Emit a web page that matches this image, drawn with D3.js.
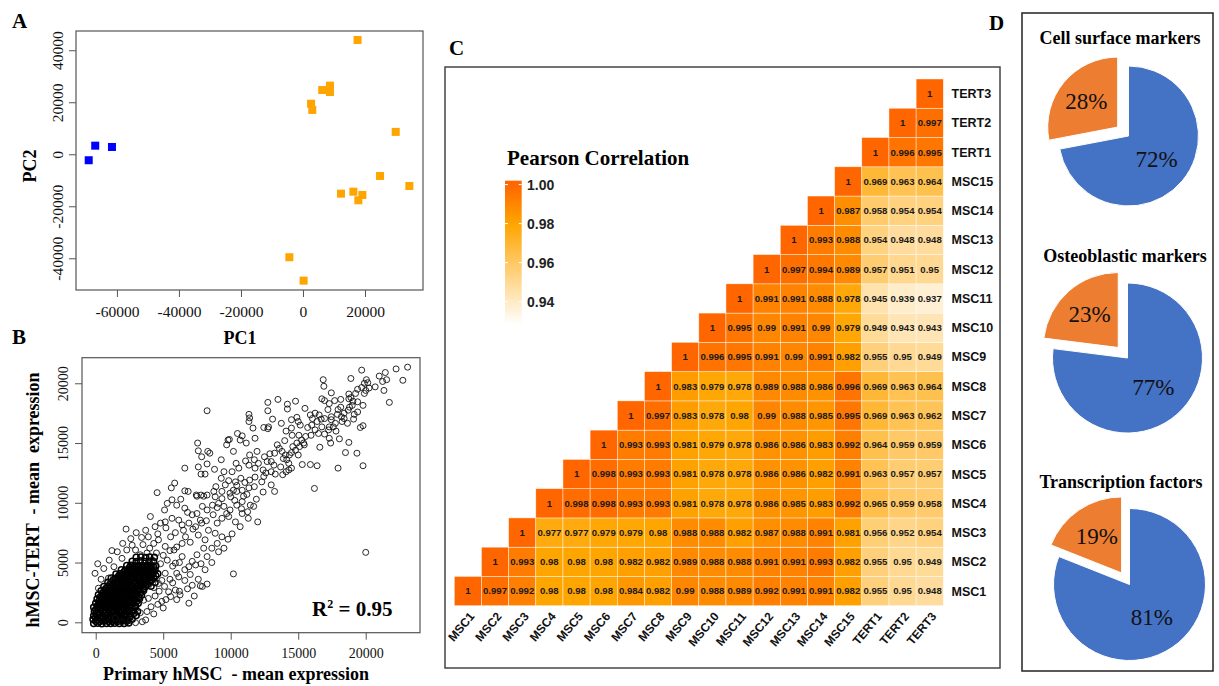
<!DOCTYPE html>
<html>
<head>
<meta charset="utf-8">
<script src="https://cdn.jsdelivr.net/npm/d3@7"></script>
<style>
  body { margin: 0; background: #fff; }
</style>
</head>
<body>
<script>
// ---- panel A : PCA ----
const pcaMSC = [[17600,43950],[2600,19450],[3000,17050],[6200,24700],[8700,26400],[8700,23950],
  [29900,8600],[24850,-8350],[34300,-12200],[12250,-15150],[16250,-14400],[19150,-15650],
  [17850,-17700],[-4400,-39600],[200,-48600]];
const pcaTERT = [[-69100,-2300],[-67000,3300],[-61600,2800]];
const pcaXLim = [-73200, 38700];
const pcaYLim = [-52200, 47400];
const pcaXTicks = [-60000, -40000, -20000, 0, 20000];
const pcaYTicks = [-40000, -20000, 0, 20000, 40000];

// ---- panel B : mean expression scatter ----
const exprSpread = [[23100,21350],[22250,21200],[21450,20900],[19700,21100],[22750,20250],[21550,20300],[21250,20150],[20050,20300],[20150,20050],[18900,20400],[16850,20300],[16900,19750],[20700,19700],[20250,19600],[19700,19650],[19400,19500],[21350,19400],[20000,19400],[19900,19150],[19250,19150],[18750,19100],[17450,19200],[21750,18400],[18150,18650],[18750,18700],[19050,18500],[19400,18450],[16750,18700],[16950,18550],[17700,18550],[19800,18150],[19000,18150],[18800,18000],[18150,18000],[17950,17800],[17200,17800],[18700,17750],[19400,17600],[19150,17400],[18400,17500],[17900,17400],[17450,17200],[18400,17050],[19100,17000],[18250,16800],[17750,16650],[17450,16950],[17600,16350],[17300,16350],[19800,16450],[19600,16300],[18650,16650],[16950,17050],[16550,17350],[16250,17500],[15900,17350],[16050,17050],[16400,16800],[16000,16500],[16750,16350],[16250,16100],[16500,15800],[16950,15750],[17250,16100],[17300,15400],[17400,15000],[18050,15350],[18750,15050],[16600,14650],[15950,15650],[15550,15550],[15250,15250],[15400,15000],[14900,15000],[15100,14700],[14800,14400],[15450,14850],[15050,15650],[14550,15650],[14500,16250],[15000,16800],[14900,17150],[15150,16500],[14500,16950],[14100,16000],[13750,16650],[13450,14850],[13600,14550],[13250,14150],[13800,14300],[14050,14000],[14350,14000],[14500,14200],[13900,13700],[14150,13600],[13000,13450],[13200,13150],[12700,13450],[12400,12750],[11800,12900],[12050,13300],[11750,13600],[11350,13150],[11100,13500],[11950,14300],[11400,14000],[14300,12750],[14500,12900],[14100,12600],[13850,12350],[13300,12400],[13000,12600],[12450,12200],[11800,12150],[11400,11900],[11050,11700],[10750,12050],[10350,11750],[10450,11450],[10200,11050],[9850,11850],[9600,11500],[9300,12050],[9500,12600],[10400,13300],[10600,12900],[10100,12600],[8750,10950],[8900,11350],[9350,10950],[9950,10800],[10450,10950],[10850,11050],[11350,11250],[11750,11350],[12300,11750],[15300,13200],[15900,13200],[16400,13100],[17950,12900],[19800,13100],[19350,14150],[18500,14200],
  [8250,17700],[12750,18400],[13500,18650],[14800,18500],[14200,18250],[14200,17850],[12750,17700],[13100,17000],[11350,17400],[11400,17100],[11350,16800],[11650,16250],[12450,16300],[12800,16350],[12750,16200],[10500,15800],[10850,15600],[11150,15000],[10700,15250],[9900,15300],[9700,14850],[7550,15000],[7600,14350],[8300,14300],[8450,14150],[7850,13850],[8250,13250],[7600,13000],[7800,12400],[8100,12400],[6600,12900],[5850,11650],[5600,11250],[6600,11000],[6850,10950],[4550,10850],[7450,10650],[7800,10650],[8250,10650],[16200,11200],[13250,10950],[9800,15250],[12500,13850],
  [7500,10550],[8000,10550],[8850,10500],[9350,10350],[10950,10550],[5300,9950],[5650,10250],[6000,9800],[5100,9400],[6600,9550],[7150,9000],[7500,9100],[7750,8550],[8250,9400],[8650,9800],[9100,9950],[9500,9700],[9950,9400],[10450,9800],[10850,10100],[11450,9800],[11700,9700],[11250,9250],[10850,9100],[10350,8400],[9850,8850],[9350,8700],[9000,8300],[12000,8400],[4050,8850],[3700,7700],[4400,8000],[4800,8300],[5150,8400],[5650,8700],[6150,8550],[6400,8150],[6900,8300],[7400,8000],[7850,8300],[8350,7700],[8850,7450],[9350,7150],[9800,6950],[9000,6600],[8600,6200],[9100,5900],[8250,5500],[8000,6200],[7500,5650],[7150,5100],[6900,4650],[7400,4800],[8100,4400],[10200,4050],[7150,3100],[7750,3050],[8250,3200],[7900,3000],[6250,2300],[6900,1600],[4900,1750],[5550,2150],[5900,2700],[5400,2550],[4400,2200],[3900,2000],[3550,1850],[20000,5850],[2250,7800],[150,4900],[-50,4100],[200,2850],[950,3700],[1350,4650],[1950,5350],[2300,6050],[2700,6450],[2950,6050],[3300,5650],[3900,7150],[4300,6600],[4650,6900],[3700,200],[3450,50],[2950,-30],[2550,150],[1950,50],[1450,350],[6150,3800],[5800,6050],[6400,6600],[6650,7150],[5550,7150],[5150,6350],[5900,4950],[5150,4100],[4650,3250],[6400,5500],
  [3500,6500],[4000,6200],[4500,5800],[5000,5600],[5500,6000],[6000,6300],[3800,5800],[4200,5200],[4800,4900],[5300,5200],[5700,4700],[6200,5000],[6600,4400],[6000,4100],[5500,3600],[4900,3500],[4300,2900],[5100,3000],[5700,3300],[6600,3500],[7000,4000],[7600,3600],[6800,2800],[6200,2600],[4700,2600],[5200,1900],[4600,1500],[4100,1300],[3800,900],[4300,700],[3300,800],[5000,1200],[6000,1900],[7300,2200],[7800,4900],[8600,5000],[9500,6200],[10100,7400],[10700,8000],[11300,8700],[7000,6700],[7600,7300],[8100,6900],[6500,7700],[7200,7800],[5900,7500],[5200,7900],[4600,7400],[3400,7100],[3000,7500],[2600,7000],[2000,6600],[1600,5900],[1000,5200],[600,4500],[400,3600],[1200,6000],[8700,9000],[9700,9100],[10300,10200],[8200,8500],[6800,9200],[7900,9700],[6300,10300],[10000,10500],[10800,9500],[11900,10300],[12400,10900],[13000,11500],[12600,12500],[13700,13000],[14300,13300],[15000,14000],[14000,15200],[15700,16300],[16700,17000],[17800,16000],[18200,17200],[18900,18800],[19900,20000],[21000,20600],[17300,18300],[15500,17900],[14600,14700],[12900,14100],[11800,15400],[9300,13600],[10200,14300],[8800,12800],[9000,9600],[11200,10700]];
const exprCore = [[-150,-100],[150,-80],[450,-120],[800,-90],[1100,-110],[1400,-70],[1750,-100],[2100,-90],[2450,-60],
  [-200,250],[100,230],[400,270],[700,240],[1000,260],[1350,220],[1650,280],[2000,250],[2300,230],[2700,260],
  [-150,550],[150,580],[450,530],[750,560],[1050,540],[1300,590],[1600,550],[1900,530],[2250,570],[2600,540],[3000,560],
  [-100,900],[200,880],[500,920],[800,890],[1100,910],[1400,870],[1700,930],[2000,900],[2350,880],[2700,920],[3100,900],
  [-150,1250],[150,1270],[450,1230],[750,1260],[1050,1240],[1350,1280],[1650,1250],[1950,1220],[2250,1260],[2550,1240],[2950,1270],
  [0,1600],[300,1580],[600,1620],[900,1590],[1200,1610],[1500,1570],[1800,1630],[2100,1600],[2400,1580],[2750,1610],[3150,1590],
  [100,1950],[400,1970],[700,1930],[1000,1960],[1300,1940],[1600,1980],[1900,1950],[2200,1920],[2500,1960],[2850,1940],[3250,1970],
  [200,2300],[500,2280],[800,2320],[1100,2290],[1400,2310],[1700,2270],[2000,2330],[2300,2300],[2650,2280],[3000,2310],[3400,2290],
  [400,2650],[700,2670],[1000,2630],[1300,2660],[1600,2640],[1900,2680],[2200,2650],[2500,2620],[2800,2660],[3150,2640],[3550,2670],
  [600,3000],[900,2980],[1200,3020],[1500,2990],[1800,3010],[2100,2970],[2400,3030],[2700,3000],[3000,2980],[3350,3010],[3700,2990],[4100,3020],
  [900,3350],[1200,3370],[1500,3330],[1800,3360],[2100,3340],[2400,3380],[2700,3350],[3000,3320],[3300,3360],[3650,3340],[4000,3370],[4400,3340],
  [1150,3700],[1450,3680],[1800,3720],[2100,3690],[2400,3710],[2700,3670],[3000,3730],[3300,3700],[3600,3680],[3950,3710],[4300,3690],
  [1500,4050],[1800,4070],[2100,4030],[2400,4060],[2700,4040],[3000,4080],[3300,4050],[3600,4020],[3900,4060],[4250,4040],[4600,4070],
  [1900,4400],[2200,4380],[2550,4420],[2850,4390],[3150,4410],[3450,4370],[3750,4430],[4050,4400],[4400,4380],
  [2300,4750],[2600,4770],[2900,4730],[3200,4760],[3500,4740],[3800,4780],[4100,4750],[4450,4720],
  [2700,5100],[3000,5080],[3300,5120],[3650,5090],[3950,5110],[4300,5070],
  [3000,5450],[3350,5470],[3700,5430],[4000,5460],[4350,5440]];
const exprCoreFill = [[0,80],[300,60],[600,100],[950,70],[1250,90],[1600,60],[1900,100],[2300,80],
  [0,420],[300,400],[600,440],[900,410],[1200,430],[1500,390],[1800,450],[2150,420],[2500,400],
  [50,750],[350,730],[650,770],[950,740],[1250,760],[1550,720],[1850,780],[2150,750],[2500,730],[2850,760],
  [0,1080],[300,1100],[600,1060],[900,1090],[1200,1070],[1500,1110],[1800,1080],[2100,1050],[2400,1090],[2800,1070],
  [150,1420],[450,1440],[750,1400],[1050,1430],[1350,1410],[1650,1450],[1950,1420],[2250,1390],[2600,1430],[2950,1410],
  [250,1780],[550,1760],[850,1800],[1150,1770],[1450,1790],[1750,1750],[2050,1810],[2350,1780],[2700,1760],[3050,1790],
  [350,2130],[650,2150],[950,2110],[1250,2140],[1550,2120],[1850,2160],[2150,2130],[2450,2100],[2800,2140],[3200,2120],
  [550,2480],[850,2460],[1150,2500],[1450,2470],[1750,2490],[2050,2450],[2350,2510],[2650,2480],[3000,2460],[3350,2490],
  [750,2830],[1050,2850],[1350,2810],[1650,2840],[1950,2820],[2250,2860],[2550,2830],[2850,2800],[3200,2840],[3550,2820],
  [1050,3180],[1350,3160],[1650,3200],[1950,3170],[2250,3190],[2550,3150],[2850,3210],[3150,3180],[3500,3160],[3850,3190],
  [1300,3530],[1650,3510],[1950,3550],[2250,3520],[2550,3540],[2850,3500],[3150,3560],[3450,3530],[3800,3510],[4150,3540],
  [1700,3880],[2000,3860],[2300,3900],[2600,3870],[2900,3890],[3200,3850],[3500,3910],[3800,3880],[4100,3860],[4450,3890],
  [2100,4230],[2400,4210],[2700,4250],[3000,4220],[3300,4240],[3600,4200],[3900,4260],[4250,4230],
  [2500,4580],[2800,4560],[3100,4600],[3400,4570],[3700,4590],[4000,4550],[4300,4610]];
const exprXLim = [-1015, 24020];
const exprYLim = [-870, 22140];
const exprTicks = [0, 5000, 10000, 15000, 20000];

// ---- panel C : correlation (row i holds columns i..17) ----
const corrLabels = ['MSC1','MSC2','MSC3','MSC4','MSC5','MSC6','MSC7','MSC8','MSC9','MSC10',
  'MSC11','MSC12','MSC13','MSC14','MSC15','TERT1','TERT2','TERT3'];
const corrRows = [
  [1,0.997,0.992,0.98,0.98,0.98,0.984,0.982,0.99,0.988,0.989,0.992,0.991,0.991,0.982,0.955,0.95,0.948],
  [1,0.993,0.98,0.98,0.98,0.982,0.982,0.989,0.988,0.988,0.991,0.991,0.993,0.982,0.955,0.95,0.949],
  [1,0.977,0.977,0.979,0.979,0.98,0.988,0.988,0.982,0.987,0.988,0.991,0.981,0.956,0.952,0.954],
  [1,0.998,0.998,0.993,0.993,0.981,0.978,0.978,0.986,0.985,0.983,0.992,0.965,0.959,0.958],
  [1,0.998,0.993,0.993,0.981,0.978,0.978,0.986,0.986,0.982,0.991,0.963,0.957,0.957],
  [1,0.993,0.993,0.981,0.979,0.978,0.986,0.986,0.983,0.992,0.964,0.959,0.959],
  [1,0.997,0.983,0.978,0.98,0.99,0.988,0.985,0.995,0.969,0.963,0.962],
  [1,0.983,0.979,0.978,0.989,0.988,0.986,0.996,0.969,0.963,0.964],
  [1,0.996,0.995,0.991,0.99,0.991,0.982,0.955,0.95,0.949],
  [1,0.995,0.99,0.991,0.99,0.979,0.949,0.943,0.943],
  [1,0.991,0.991,0.988,0.978,0.945,0.939,0.937],
  [1,0.997,0.994,0.989,0.957,0.951,0.95],
  [1,0.993,0.988,0.954,0.948,0.948],
  [1,0.987,0.958,0.954,0.954],
  [1,0.969,0.963,0.964],
  [1,0.996,0.995],
  [1,0.997],
  [1]];
const legendTicks = [0.94, 0.96, 0.98, 1.00];
const legendLim = [0.928, 1.002];

// ---- panel D : pies ----
const pieTitles = ['Cell surface markers', 'Osteoblastic markers', 'Transcription factors'];
const pieValues = [[72, 28], [77, 23], [81, 19]];

const SERIF = "'Liberation Serif', 'Times New Roman', serif";
const SANS = "'Liberation Sans', Arial, sans-serif";

const svg = d3.select('body').append('svg')
  .attr('width', 1219).attr('height', 686)
  .style('background', '#fff');

function panelLabel(t, x, y) {
  svg.append('text').attr('x', x).attr('y', y)
    .style('font-family', SERIF).style('font-weight', 'bold').style('font-size', '21px')
    .text(t);
}

// R style axes: box + outward ticks, y labels parallel to axis
function rAxes(g, x, y, xTicks, yTicks, fs, xLabY, yLabX) {
  const box = { x0: x.range()[0], x1: x.range()[1], y0: y.range()[1], y1: y.range()[0] };
  g.append('rect').attr('x', box.x0).attr('y', box.y0)
    .attr('width', box.x1 - box.x0).attr('height', box.y1 - box.y0)
    .attr('fill', 'none').attr('stroke', '#555').attr('stroke-width', 1.2);

  const xa = g.append('g').attr('transform', 'translate(0,' + box.y1 + ')')
    .call(d3.axisBottom(x).tickValues(xTicks).tickSize(7).tickFormat(function(d) { return String(d); }));
  xa.select('.domain').remove();
  xa.selectAll('.tick line').attr('stroke', '#555');
  xa.selectAll('.tick text').attr('y', xLabY).attr('dy', 0)
    .style('font-family', SERIF).style('font-size', fs + 'px').attr('fill', '#111');

  const ya = g.append('g').attr('transform', 'translate(' + box.x0 + ',0)')
    .call(d3.axisLeft(y).tickValues(yTicks).tickSize(7).tickFormat(function(d) { return String(d); }));
  ya.select('.domain').remove();
  ya.selectAll('.tick line').attr('stroke', '#555');
  ya.selectAll('.tick text')
    .attr('transform', 'rotate(-90)')
    .attr('x', 0).attr('y', -yLabX).attr('dy', 0)
    .attr('text-anchor', 'middle')
    .style('font-family', SERIF).style('font-size', fs + 'px').attr('fill', '#111');
}

function drawPca() {
  const x = d3.scaleLinear().domain(pcaXLim).range([76, 423]);
  const y = d3.scaleLinear().domain(pcaYLim).range([290, 31]);
  const g = svg.append('g');
  rAxes(g, x, y, pcaXTicks, pcaYTicks, 15.5, 27, 13.5);

  const sz = 8;
  g.selectAll('rect.msc').data(pcaMSC).join('rect').attr('class', 'msc')
    .attr('x', function(d) { return x(d[0]) - sz / 2; })
    .attr('y', function(d) { return y(d[1]) - sz / 2; })
    .attr('width', sz).attr('height', sz).attr('fill', '#ffa500');
  g.selectAll('rect.tert').data(pcaTERT).join('rect').attr('class', 'tert')
    .attr('x', function(d) { return x(d[0]) - sz / 2; })
    .attr('y', function(d) { return y(d[1]) - sz / 2; })
    .attr('width', sz).attr('height', sz).attr('fill', '#0000ff');

  g.append('text').attr('x', 240).attr('y', 344).attr('text-anchor', 'middle')
    .style('font-family', SERIF).style('font-weight', 'bold').style('font-size', '18px').text('PC1');
  g.append('text').attr('transform', 'translate(36,166) rotate(-90)').attr('text-anchor', 'middle')
    .style('font-family', SERIF).style('font-weight', 'bold').style('font-size', '18px').text('PC2');
}

function drawScatter() {
  const x = d3.scaleLinear().domain(exprXLim).range([82, 420]);
  const y = d3.scaleLinear().domain(exprYLim).range([632.7, 357.7]);
  const g = svg.append('g');
  rAxes(g, x, y, exprTicks, exprTicks, 14, 25.5, 14);

  // dense cloud near the origin, drawn with heavier rings
  g.append('g').selectAll('circle').data(exprCore.concat(exprCoreFill)).join('circle')
    .attr('cx', function(d) { return x(d[0]); })
    .attr('cy', function(d) { return y(d[1]); })
    .attr('r', 3)
    .attr('fill', 'none').attr('stroke', '#000').attr('stroke-width', 1.5);
  g.append('g').selectAll('circle').data(exprSpread).join('circle')
    .attr('cx', function(d) { return x(d[0]); })
    .attr('cy', function(d) { return y(d[1]); })
    .attr('r', 3)
    .attr('fill', 'none').attr('stroke', '#111').attr('stroke-width', 0.9);

  const r2 = g.append('text').attr('x', 312).attr('y', 616)
    .style('font-family', SERIF).style('font-weight', 'bold').style('font-size', '21px');
  r2.append('tspan').text('R');
  r2.append('tspan').attr('dy', -8).style('font-size', '12px').text('2');
  r2.append('tspan').attr('dy', 8).text(' = 0.95');

  g.append('text').attr('x', 236).attr('y', 680).attr('text-anchor', 'middle')
    .style('font-family', SERIF).style('font-weight', 'bold').style('font-size', '18px')
    .style('white-space', 'pre').text('Primary hMSC  - mean expression');
  g.append('text').attr('transform', 'translate(39,500) rotate(-90)').attr('text-anchor', 'middle')
    .style('font-family', SERIF).style('font-weight', 'bold').style('font-size', '18px')
    .style('white-space', 'pre').text('hMSC-TERT  - mean  expression');
}

function drawHeatmap() {
  svg.append('rect').attr('x', 445).attr('y', 67).attr('width', 555).attr('height', 601)
    .attr('fill', 'none').attr('stroke', '#444').attr('stroke-width', 1.5);

  const color = d3.scaleLinear().domain([legendLim[0], 0.98, 1.0])
    .range(['#ffffff', '#ffa500', '#ff6600']).clamp(true);
  const x = d3.scaleBand().domain(corrLabels).range([454.3, 943.3]);
  const y = d3.scaleBand().domain(corrLabels.slice().reverse()).range([79, 605.7]);

  const cells = [];
  corrRows.forEach(function(row, i) {
    row.forEach(function(v, k) {
      cells.push({ r: corrLabels[i], c: corrLabels[i + k], v: v });
    });
  });

  const g = svg.append('g');
  g.selectAll('rect').data(cells).join('rect')
    .attr('x', function(d) { return x(d.c); })
    .attr('y', function(d) { return y(d.r); })
    .attr('width', x.bandwidth()).attr('height', y.bandwidth())
    .attr('fill', function(d) { return color(d.v); })
    .attr('stroke', '#fff').attr('stroke-opacity', 0.7).attr('stroke-width', 0.6);
  g.selectAll('text.val').data(cells).join('text').attr('class', 'val')
    .attr('x', function(d) { return x(d.c) + x.bandwidth() / 2; })
    .attr('y', function(d) { return y(d.r) + y.bandwidth() / 2; })
    .attr('dy', '0.35em').attr('text-anchor', 'middle')
    .style('font-family', SANS).style('font-weight', 'bold').style('font-size', '9.6px')
    .attr('fill', '#1a1a1a')
    .text(function(d) { return String(d.v); });

  g.selectAll('text.rowlab').data(corrLabels).join('text').attr('class', 'rowlab')
    .attr('x', 951.5)
    .attr('y', function(d) { return y(d) + y.bandwidth() / 2; })
    .attr('dy', '0.36em')
    .style('font-family', SANS).style('font-weight', 'bold').style('font-size', '12.5px')
    .attr('fill', '#111').text(function(d) { return d; });
  g.selectAll('text.collab').data(corrLabels).join('text').attr('class', 'collab')
    .attr('transform', function(d) {
      return 'translate(' + (x(d) + x.bandwidth() / 2 + 4) + ',614) rotate(-50)';
    })
    .attr('text-anchor', 'end').attr('dy', '0.35em')
    .style('font-family', SANS).style('font-weight', 'bold').style('font-size', '12px')
    .attr('fill', '#111').text(function(d) { return d; });

  // legend
  const ly = d3.scaleLinear().domain(legendLim).range([325, 180.7]);
  const grad = svg.append('defs').append('linearGradient').attr('id', 'corrGrad')
    .attr('x1', 0).attr('y1', 1).attr('x2', 0).attr('y2', 0);
  d3.range(0, 1.0001, 0.05).forEach(function(t) {
    const v = legendLim[0] + t * (legendLim[1] - legendLim[0]);
    grad.append('stop').attr('offset', t).attr('stop-color', color(v));
  });
  const bx = 505, bw = 16.7;
  g.append('rect').attr('x', bx).attr('y', ly(legendLim[1]))
    .attr('width', bw).attr('height', ly(legendLim[0]) - ly(legendLim[1]))
    .attr('fill', 'url(#corrGrad)');
  legendTicks.forEach(function(t) {
    g.append('line').attr('x1', bx).attr('x2', bx + 3).attr('y1', ly(t)).attr('y2', ly(t))
      .attr('stroke', '#fff').attr('stroke-width', 1);
    g.append('line').attr('x1', bx + bw - 3).attr('x2', bx + bw).attr('y1', ly(t)).attr('y2', ly(t))
      .attr('stroke', '#fff').attr('stroke-width', 1);
    g.append('text').attr('x', 527).attr('y', ly(t)).attr('dy', '0.36em')
      .style('font-family', SANS).style('font-weight', 'bold').style('font-size', '14px')
      .attr('fill', '#222').text(d3.format('.2f')(t));
  });
  g.append('text').attr('x', 507).attr('y', 165)
    .style('font-family', SERIF).style('font-weight', 'bold').style('font-size', '21px')
    .text('Pearson Correlation');
}

function drawPies() {
  svg.append('rect').attr('x', 1022).attr('y', 13).attr('width', 191).attr('height', 658)
    .attr('fill', 'none').attr('stroke', '#222').attr('stroke-width', 1.5);

  const spots = [
    { cx: 1128.5, cy: 136, r: 70, tx: 1120, ty: 44 },
    { cx: 1127.5, cy: 358, r: 75, tx: 1125, ty: 262 },
    { cx: 1129.5, cy: 584.5, r: 76, tx: 1121, ty: 488 }
  ];
  const colors = ['#4472c4', '#ed7d31'];
  const pie = d3.pie().sort(null);
  const explode = 14;

  pieValues.forEach(function(vals, i) {
    const s = spots[i];
    const g = svg.append('g').attr('transform', 'translate(' + s.cx + ',' + s.cy + ')');
    const arc = d3.arc().innerRadius(0).outerRadius(s.r);
    const arcs = pie(vals);
    arcs.forEach(function(a, k) {
      const mid = (a.startAngle + a.endAngle) / 2;
      const off = k === 1 ? explode : 0;
      const dx = Math.sin(mid) * off, dy = -Math.cos(mid) * off;
      const sg = g.append('g').attr('transform', 'translate(' + dx + ',' + dy + ')');
      sg.append('path').attr('d', arc(a)).attr('fill', colors[k])
        .attr('stroke', '#fff').attr('stroke-width', 1);
      const k2 = k === 1 ? 0.58 : 0.52;
      const la = d3.arc().innerRadius(s.r * k2).outerRadius(s.r * k2);
      const c = la.centroid(a);
      sg.append('text').attr('x', c[0]).attr('y', c[1]).attr('dy', '0.33em')
        .attr('text-anchor', 'middle')
        .style('font-family', SERIF).style('font-size', '23px').attr('fill', '#111')
        .text(a.data + '%');
    });
    svg.append('text').attr('x', s.tx).attr('y', s.ty).attr('text-anchor', 'middle')
      .style('font-family', SERIF).style('font-weight', 'bold').style('font-size', '18px')
      .text(pieTitles[i]);
  });
}

drawPca();
drawScatter();
drawHeatmap();
drawPies();
panelLabel('A', 12, 28);
panelLabel('B', 12, 344);
panelLabel('C', 449, 55);
panelLabel('D', 989, 30);
</script>
</body>
</html>
